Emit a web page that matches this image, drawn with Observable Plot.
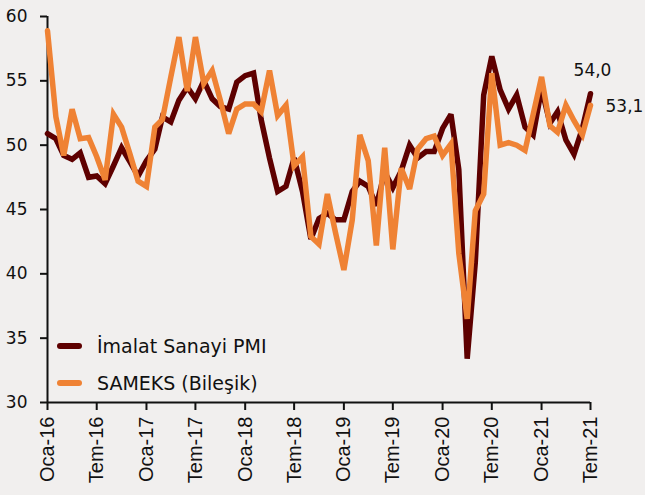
<!DOCTYPE html>
<html>
<head>
<meta charset="utf-8">
<script src="https://cdn.jsdelivr.net/npm/d3@7"></script>
<script src="https://cdn.jsdelivr.net/npm/@observablehq/plot@0.6"></script>
<style>
  html, body { margin: 0; padding: 0; background: #f1efee; }
  #wrap { position: relative; width: 645px; height: 495px; overflow: hidden; }
  #legend { position: absolute; left: 57px; top: 327px; font-family: "DejaVu Sans", sans-serif; font-size: 19px; color: #111; }
  #legend .row { display: flex; align-items: center; height: 37px; }
  #legend .sw { display: inline-block; width: 25px; height: 6px; border-radius: 3px; margin-right: 15px; }
</style>
</head>
<body>
<div id="wrap"></div>
<script>
// Monthly data, Oca-16 (Jan 2016) to Tem-21 (Jul 2021)
const startYear = 2016;
const pmi = [50.9, 50.5, 49.2, 48.9, 49.4, 47.5, 47.6, 47.0, 48.4, 49.8, 48.7, 47.6,
             48.8, 49.7, 52.2, 51.8, 53.5, 54.5, 53.6, 55.0, 53.6, 53.0, 52.8, 54.9,
             55.4, 55.6, 52.0, 49.0, 46.4, 46.8, 49.0, 46.4, 42.7, 44.3, 44.7, 44.2,
             44.2, 46.4, 47.2, 46.8, 45.3, 47.9, 46.7, 48.0, 50.0, 49.0, 49.5, 49.5,
             51.3, 52.4, 48.1, 33.4, 40.9, 53.9, 56.9, 54.3, 52.8, 53.9, 51.4, 50.8,
             54.4, 51.7, 52.6, 50.4, 49.3, 51.3, 54.0];
const sameks = [58.9, 52.2, 49.2, 52.8, 50.5, 50.6, 49.1, 47.3, 52.4, 51.4, 49.3, 47.2,
                46.8, 51.4, 52.0, 55.3, 58.4, 54.2, 58.4, 54.8, 55.8, 53.5, 50.9, 52.8,
                53.2, 53.2, 52.6, 55.8, 52.3, 53.1, 48.4, 49.1, 42.9, 42.3, 46.2, 43.2,
                40.3, 44.2, 50.8, 48.8, 42.2, 49.8, 41.9, 48.2, 46.6, 49.7, 50.5, 50.7,
                49.2, 50.1, 41.6, 36.5, 44.9, 46.2, 55.6, 50.0, 50.2, 50.0, 49.6, 52.4,
                55.3, 51.5, 51.0, 53.1, 51.9, 50.8, 53.1];
const seriesNames = ["İmalat Sanayi PMI", "SAMEKS (Bileşik)"];
const colors = ["#5e0000", "#ef8234"];
const tickLabels = ["Oca-16","Tem-16","Oca-17","Tem-17","Oca-18","Tem-18",
                    "Oca-19","Tem-19","Oca-20","Tem-20","Oca-21","Tem-21"];
const yTicks = [30, 35, 40, 45, 50, 55, 60];
const lastLabels = ["54,0", "53,1"];

const dates = pmi.map((_, i) => new Date(Date.UTC(startYear, i, 1)));
const tickDates = tickLabels.map((_, i) => new Date(Date.UTC(startYear, i * 6, 1)));
const rows = dates.map((d, i) => ({date: d, pmi: pmi[i], sameks: sameks[i]}));
const last = rows[rows.length - 1];

const plot = Plot.plot({
  width: 645,
  height: 495,
  marginLeft: 47,
  marginRight: 55,
  marginTop: 16,
  marginBottom: 93,
  style: {background: "transparent", color: "#111"},
  x: {type: "utc", domain: [dates[0], dates[dates.length - 1]]},
  y: {domain: [30, 60]},
  marks: [
    Plot.axisY({ticks: yTicks, tickSize: 7, tickPadding: 13, tickFormat: d => String(d),
                fontSize: 17, fontFamily: "DejaVu Sans", stroke: "#111", fill: "#111", strokeWidth: 2, label: null}),
    Plot.axisX({ticks: tickDates, tickSize: 8, tickPadding: 6, tickRotate: -90,
                tickFormat: d => tickLabels[tickDates.findIndex(t => +t === +d)],
                fontSize: 20, fontFamily: "Liberation Sans", stroke: "#111", fill: "#111", strokeWidth: 2, label: null}),
    Plot.ruleX([dates[0]], {stroke: "#111", strokeWidth: 2}),
    Plot.ruleY([30], {stroke: "#111", strokeWidth: 2}),
    Plot.lineY(rows, {x: "date", y: "pmi", stroke: colors[0], strokeWidth: 5.5, strokeLinejoin: "miter", strokeMiterlimit: 3}),
    Plot.lineY(rows, {x: "date", y: "sameks", stroke: colors[1], strokeWidth: 5.5, strokeLinejoin: "miter", strokeMiterlimit: 3}),
    Plot.text([last], {x: "date", y: "pmi", text: () => lastLabels[0], dx: 2, dy: -23, textAnchor: "middle",
                       fontSize: 17, fontFamily: "DejaVu Sans", fill: "#111"}),
    Plot.text([last], {x: "date", y: "sameks", text: () => lastLabels[1], dx: 15, dy: 1, textAnchor: "start",
                       fontSize: 17, fontFamily: "DejaVu Sans", fill: "#111"})
  ]
});

const wrap = document.getElementById("wrap");
wrap.appendChild(plot);
const legend = document.createElement("div");
legend.id = "legend";
seriesNames.forEach((name, i) => {
  const row = document.createElement("div");
  row.className = "row";
  const sw = document.createElement("span");
  sw.className = "sw";
  sw.style.background = colors[i];
  const t = document.createElement("span");
  t.textContent = name;
  row.appendChild(sw);
  row.appendChild(t);
  legend.appendChild(row);
});
wrap.appendChild(legend);
</script>
</body>
</html>
